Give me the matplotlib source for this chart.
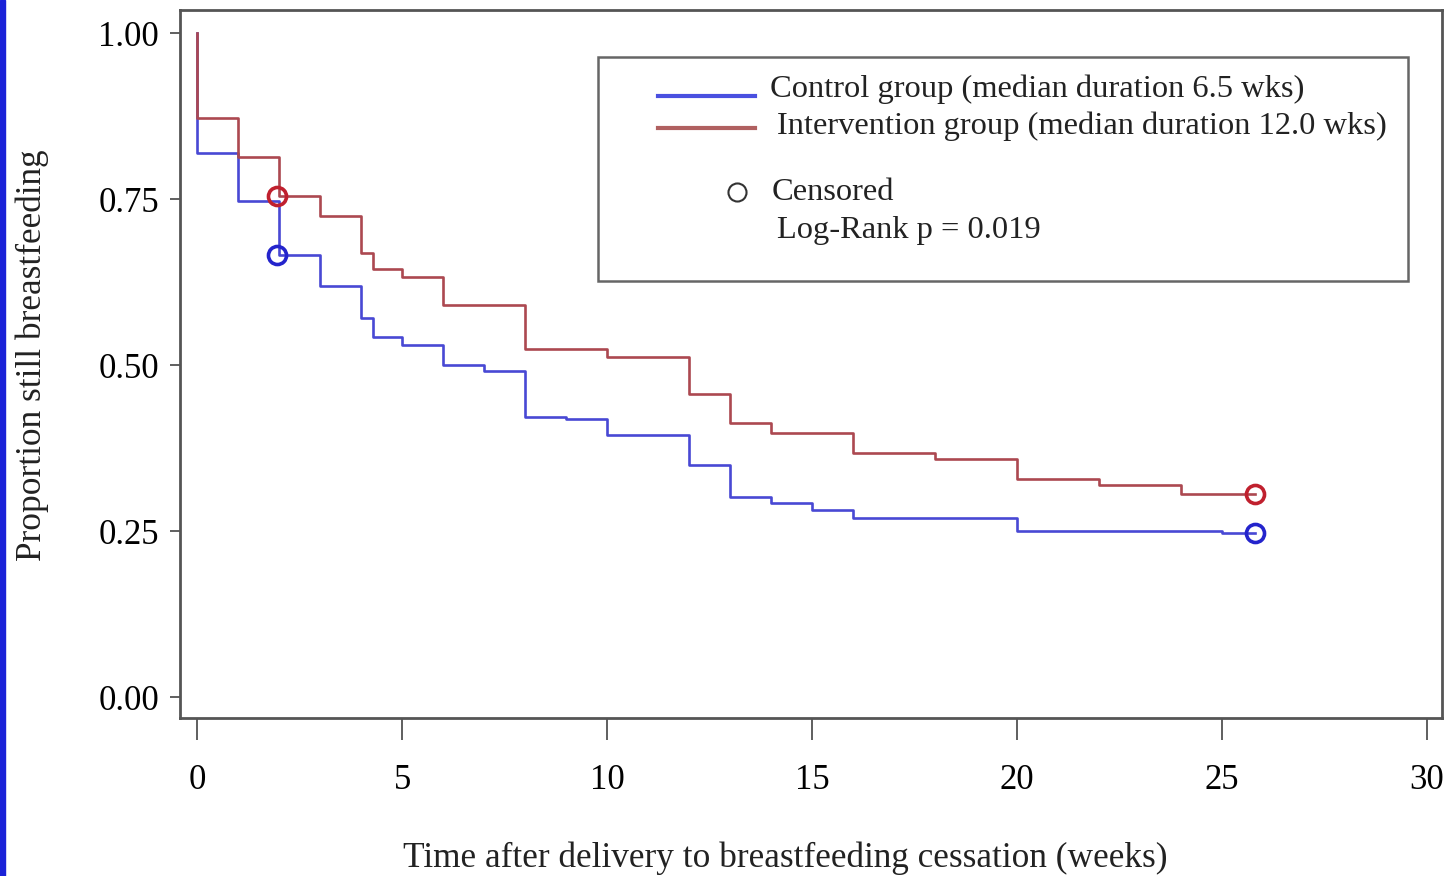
import numpy as np
import matplotlib
matplotlib.use('Agg')
import matplotlib.pyplot as plt
from matplotlib.patches import Rectangle

plt.rcParams['font.family'] = ['Liberation Serif', 'DejaVu Serif']

# Kaplan-Meier steps (weeks, proportion still breastfeeding)
ctrl_t = [0, 0, 1, 2, 3, 4, 4.3, 5, 6, 7, 8, 9, 10, 12, 13, 14, 15, 16, 20, 25, 25.8]
ctrl_s = [1.0, 0.819, 0.747, 0.666, 0.619, 0.571, 0.542, 0.530, 0.500, 0.491, 0.422,
          0.419, 0.395, 0.349, 0.301, 0.292, 0.282, 0.270, 0.250, 0.247, 0.247]
int_t = [0, 0, 1, 2, 3, 4, 4.3, 5, 6, 8, 10, 12, 13, 14, 16, 18, 20, 22, 24, 25.8]
int_s = [1.0, 0.872, 0.813, 0.755, 0.724, 0.669, 0.645, 0.633, 0.590, 0.524, 0.513,
         0.456, 0.413, 0.398, 0.367, 0.358, 0.328, 0.319, 0.306, 0.306]

# censored observations
ctrl_cens_t = [1.95, 25.8]
ctrl_cens_s = [0.666, 0.247]
int_cens_t = [1.95, 25.8]
int_cens_s = [0.755, 0.306]

x_ticks = [0, 5, 10, 15, 20, 25, 30]
y_ticks = [0.00, 0.25, 0.50, 0.75, 1.00]

blue = '#4848d4'
red = '#ac4850'

fig = plt.figure(figsize=(14.51, 8.76), dpi=100)
ax = fig.add_axes([0.124, 0.180, 0.8698, 0.8086])

ax.step(ctrl_t, ctrl_s, where='post', color=blue, lw=1.9)
ax.step(int_t, int_s, where='post', color=red, lw=1.9)
ax.plot(ctrl_cens_t, ctrl_cens_s, 'o', mfc='none', mec='#2424cc', ms=13, mew=2.6)
ax.plot(int_cens_t, int_cens_s, 'o', mfc='none', mec='#c0202e', ms=13, mew=2.6)

ax.set_xlim(-0.42, 30.37)
ax.set_ylim(-0.032, 1.035)
ax.set_xticks(x_ticks)
ax.set_xticklabels([str(v) for v in x_ticks])
ax.set_yticks(y_ticks)
ax.set_yticklabels(['%.2f' % v for v in y_ticks])
ax.tick_params(axis='x', length=16, width=1.2, pad=17, labelsize=25, color='#444444')
ax.tick_params(axis='y', length=7, width=1.2, pad=8, labelsize=25, color='#444444')
for sp in ax.spines.values():
    sp.set_linewidth(2.0)
    sp.set_color('#555555')

fig.text(0.541, 0.0205, 'Time after delivery to breastfeeding cessation (weeks)',
         ha='center', va='center', fontsize=25.4, color='#222222')
fig.text(0.022, 0.595, 'Proportion still breastfeeding', rotation=90,
         ha='center', va='center', fontsize=25.4, color='#222222')

# legend box drawn by hand
ax.add_patch(Rectangle((0.331, 0.617), 0.642, 0.317, transform=ax.transAxes,
                       fill=False, ec='#666666', lw=1.8))
ax.plot([0.379, 0.456], [0.879, 0.879], transform=ax.transAxes, color='#4a50e0', lw=3)
ax.plot([0.379, 0.456], [0.833, 0.833], transform=ax.transAxes, color='#b06060', lw=3)
ax.plot([0.441], [0.743], 'o', transform=ax.transAxes, mfc='none', mec='#333333', ms=13, mew=1.5)
ax.text(0.4675, 0.888, 'Control group (median duration 6.5 wks)', transform=ax.transAxes,
        va='center', fontsize=23.4, color='#222222')
ax.text(0.473, 0.836, 'Intervention group (median duration 12.0 wks)', transform=ax.transAxes,
        va='center', fontsize=23.4, color='#222222')
ax.text(0.469, 0.743, 'Censored', transform=ax.transAxes, va='center', fontsize=23.4,
        color='#222222')
ax.text(0.473, 0.689, 'Log-Rank p = 0.019', transform=ax.transAxes, va='center', fontsize=23.4,
        color='#222222')

# blue strip on the left edge
fig.patches.append(Rectangle((0, 0), 0.0035, 1, transform=fig.transFigure,
                             color='#1a22d8', zorder=5))

fig.savefig('out.png', dpi=100)
